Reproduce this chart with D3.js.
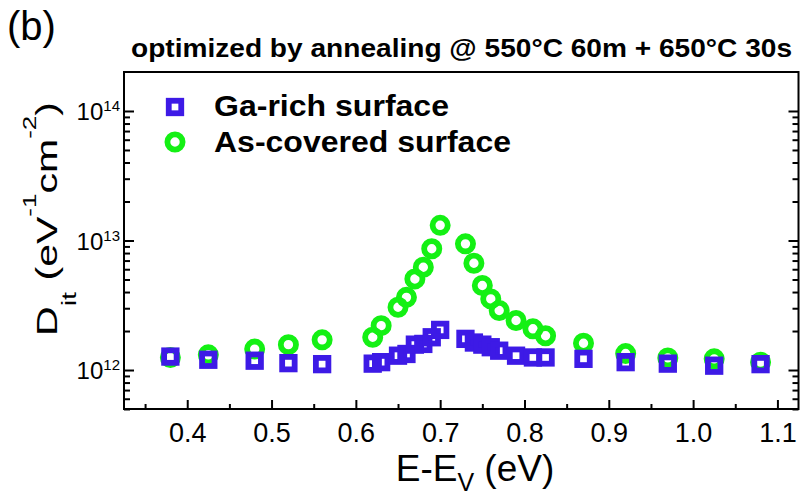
<!DOCTYPE html>
<html><head><meta charset="utf-8">
<script src="https://cdn.jsdelivr.net/npm/d3@7"></script>
<style>
body{margin:0;background:#fff}
svg{display:block}
text{font-family:"Liberation Sans",Arial,Helvetica,sans-serif;fill:#000}
</style>
</head><body>
<svg id="chart" width="804" height="495"></svg>
<script>
// ---------- data ----------
const energy = [0.38, 0.425, 0.48, 0.52, 0.56, 0.62, 0.63, 0.65, 0.66, 0.67, 0.68, 0.69, 0.70,
                0.73, 0.74, 0.75, 0.76, 0.77, 0.79, 0.81, 0.825, 0.87, 0.92, 0.97, 1.025, 1.08];
const gaRich = [1.27e12, 1.20e12, 1.18e12, 1.13e12, 1.11e12, 1.12e12, 1.15e12, 1.29e12, 1.33e12,
                1.57e12, 1.59e12, 1.79e12, 2.04e12, 1.74e12, 1.63e12, 1.57e12, 1.50e12, 1.41e12,
                1.29e12, 1.25e12, 1.25e12, 1.22e12, 1.15e12, 1.12e12, 1.08e12, 1.11e12];
const asCovered = [1.25e12, 1.31e12, 1.45e12, 1.57e12, 1.71e12, 1.79e12, 2.2e12, 3.05e12, 3.64e12,
                   5.05e12, 6.22e12, 8.64e12, 1.31e13, 9.42e12, 6.67e12, 4.49e12, 3.54e12, 2.88e12,
                   2.41e12, 2.08e12, 1.84e12, 1.61e12, 1.34e12, 1.24e12, 1.22e12, 1.15e12];
const seriesNames = ["Ga-rich surface", "As-covered surface"];
const xTicks = [0.4, 0.5, 0.6, 0.7, 0.8, 0.9, 1.0, 1.1];
const xMinorTicks = [0.35, 0.45, 0.55, 0.65, 0.75, 0.85, 0.95, 1.05];
const yTicks = [1e12, 1e13, 1e14];
const yTickExponents = ["12", "13", "14"];
const panelLabel = "(b)";
const titleText = "optimized by annealing @ 550°C 60m + 650°C 30s";

// ---------- layout ----------
const svg = d3.select("#chart");
const L = 124, R = 798.5, T = 72, B = 409;
const x = d3.scaleLinear().domain([0.325, 1.125]).range([L, R]);
const y = d3.scaleLog().domain([5e11, 2e14]).range([B, T]);
const blue = "#3d1ae6", green = "#14f014";

// minor y ticks
const yMinor = [];
for (let e = 11; e <= 14; e++) for (let m = 2; m <= 9; m++) {
  const v = m * Math.pow(10, e);
  if (v > 5e11 * 0.999 && v < 2e14 * 0.999) yMinor.push(v);
}

// panel label & title
svg.append("text").attr("x", 7).attr("y", 40).attr("font-size", 40).text(panelLabel);
svg.append("text").attr("x", 131).attr("y", 57).attr("font-size", 25).attr("font-weight", "bold")
  .attr("textLength", 661).attr("lengthAdjust", "spacingAndGlyphs").text(titleText);

// axes
function styleAxis(g) {
  g.select(".domain").remove();
  g.selectAll(".tick line").attr("stroke", "#000").attr("stroke-width", 2);
}
svg.append("g").attr("transform", `translate(0,${B})`)
  .call(d3.axisBottom(x).tickValues(xTicks).tickSize(-9).tickPadding(14).tickFormat(d3.format(".1f")))
  .call(styleAxis)
  .call(g => g.selectAll("text").attr("font-size", 27).attr("fill", "#000")
    .style("font-family", '"Liberation Sans",Arial,sans-serif'));
svg.append("g").attr("transform", `translate(0,${B})`)
  .call(d3.axisBottom(x).tickValues(xMinorTicks).tickSize(-5).tickFormat(""))
  .call(styleAxis);

[[d3.axisLeft, L], [d3.axisRight, R]].forEach(([ax, pos]) => {
  svg.append("g").attr("transform", `translate(${pos},0)`)
    .call(ax(y).tickValues(yTicks).tickSize(-10).tickFormat("")).call(styleAxis);
  svg.append("g").attr("transform", `translate(${pos},0)`)
    .call(ax(y).tickValues(yMinor).tickSize(-6).tickFormat("")).call(styleAxis);
});

// y tick labels 10^n
yTicks.forEach((d, i) => {
  const t = svg.append("text").attr("x", 120).attr("y", y(d) + 9)
    .attr("text-anchor", "end").attr("font-size", 24);
  t.append("tspan").text("10");
  t.append("tspan").attr("font-size", 15).attr("dy", -9).text(yTickExponents[i]);
});

// frame
svg.append("rect").attr("x", L).attr("y", T).attr("width", R - L).attr("height", B - T)
  .attr("fill", "none").attr("stroke", "#000").attr("stroke-width", 2);

// axis titles
const xl = svg.append("text").attr("x", 475).attr("y", 481).attr("text-anchor", "middle").attr("font-size", 37);
xl.append("tspan").text("E-E");
xl.append("tspan").attr("font-size", 25).attr("dy", 10).text("V");
xl.append("tspan").attr("dy", -10).text(" (eV)");

const yl = svg.append("text").attr("text-anchor", "middle").attr("font-size", 41)
  .attr("transform", "translate(57,219) rotate(-90) scale(1,0.72)");
yl.append("tspan").text("D");
yl.append("tspan").attr("font-size", 29).attr("dy", 26).text("it");
yl.append("tspan").attr("dy", -26).text(" (eV");
yl.append("tspan").attr("font-size", 26).attr("dy", -29).text("-1");
yl.append("tspan").attr("dy", 29).text("cm");
yl.append("tspan").attr("font-size", 26).attr("dy", -29).text("-2");
yl.append("tspan").attr("dy", 29).text(")");

// data
const plot = svg.append("g");
plot.selectAll("circle.as").data(energy.map((e, i) => [e, asCovered[i]])).join("circle")
  .attr("class", "as").attr("cx", d => x(d[0])).attr("cy", d => y(d[1])).attr("r", 7.6)
  .attr("fill", "none").attr("stroke", green).attr("stroke-width", 5.8);
const s = 12.5;
plot.selectAll("rect.ga").data(energy.map((e, i) => [e, gaRich[i]])).join("rect")
  .attr("class", "ga").attr("x", d => x(d[0]) - s / 2).attr("y", d => y(d[1]) - s / 2)
  .attr("width", s).attr("height", s)
  .attr("fill", "none").attr("stroke", blue).attr("stroke-width", 5.8);

// legend
const lg = svg.append("g");
lg.append("rect").attr("x", 175 - s / 2).attr("y", 107 - s / 2).attr("width", s).attr("height", s)
  .attr("fill", "none").attr("stroke", blue).attr("stroke-width", 5.8);
lg.append("circle").attr("cx", 175).attr("cy", 142).attr("r", 7.6)
  .attr("fill", "none").attr("stroke", green).attr("stroke-width", 5.8);
lg.append("text").attr("x", 214).attr("y", 116).attr("font-size", 30).attr("font-weight", "bold")
  .attr("textLength", 235).attr("lengthAdjust", "spacingAndGlyphs").text(seriesNames[0]);
lg.append("text").attr("x", 214).attr("y", 152).attr("font-size", 30).attr("font-weight", "bold")
  .attr("textLength", 297).attr("lengthAdjust", "spacingAndGlyphs").text(seriesNames[1]);
</script>
</body></html>
